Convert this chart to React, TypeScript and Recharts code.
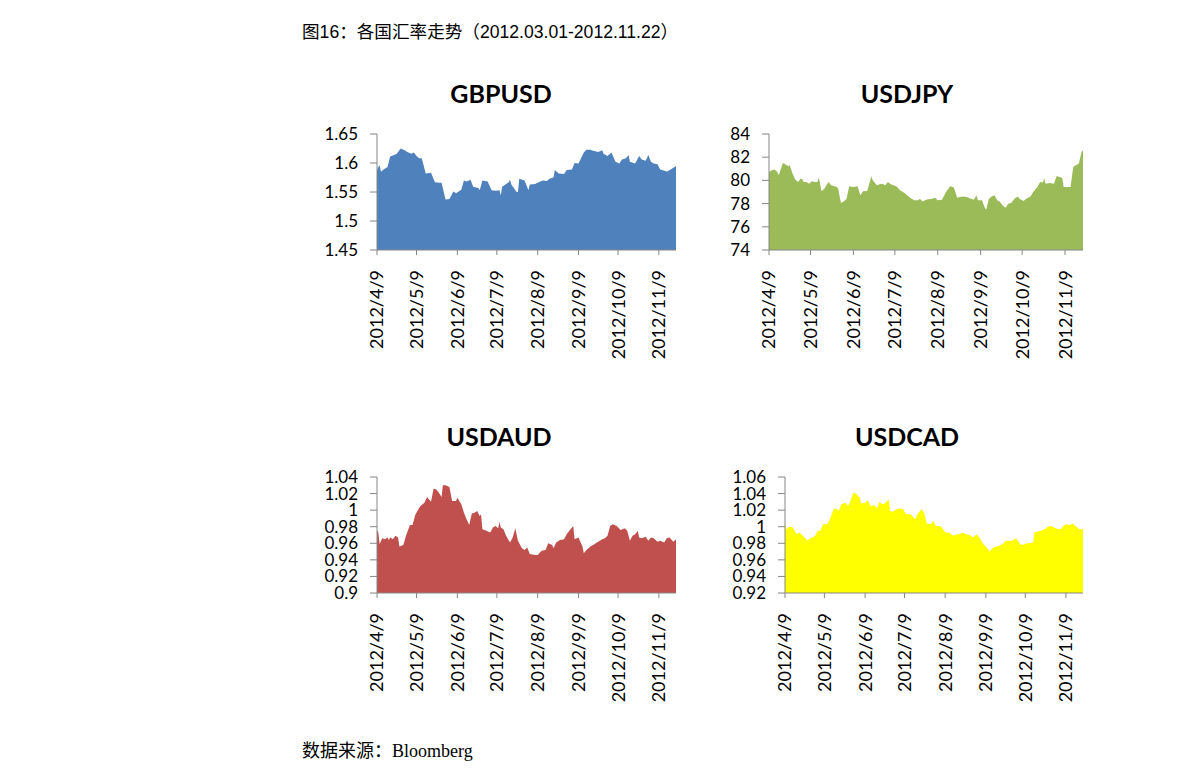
import { AreaChart, Area, XAxis, YAxis } from "recharts";

// day 0 = 2012/4/9, last day 227 = 2012/11/22
const monthTicks = [0, 30, 61, 91, 122, 153, 183, 214];
const monthLabels = ["2012/4/9", "2012/5/9", "2012/6/9", "2012/7/9", "2012/8/9", "2012/9/9", "2012/10/9", "2012/11/9"];

const gbpDays = [0, 1, 2, 3, 5, 8, 10, 13, 15, 18, 21, 23, 26, 28, 30, 32, 34, 37, 41, 44, 47, 49, 52, 55, 58, 60, 64, 66, 68, 71, 73, 77, 78, 80, 84, 87, 90, 93, 94, 95, 100, 101, 102, 106, 107, 108, 112, 115, 116, 120, 124, 126, 129, 131, 134, 135, 138, 142, 144, 148, 150, 153, 157, 159, 162, 164, 168, 171, 172, 175, 178, 181, 184, 186, 189, 191, 192, 196, 199, 201, 204, 206, 208, 210, 213, 215, 219, 220, 223, 227];
const gbpRates = [1.587, 1.593, 1.596, 1.585, 1.589, 1.593, 1.611, 1.614, 1.616, 1.625, 1.622, 1.619, 1.616, 1.618, 1.612, 1.608, 1.608, 1.582, 1.583, 1.567, 1.566, 1.566, 1.537, 1.538, 1.551, 1.548, 1.554, 1.57, 1.568, 1.571, 1.559, 1.557, 1.553, 1.57, 1.568, 1.553, 1.552, 1.553, 1.544, 1.559, 1.567, 1.571, 1.563, 1.55, 1.55, 1.573, 1.57, 1.553, 1.563, 1.564, 1.568, 1.57, 1.569, 1.573, 1.575, 1.588, 1.582, 1.581, 1.588, 1.589, 1.6, 1.599, 1.618, 1.623, 1.623, 1.621, 1.619, 1.622, 1.616, 1.612, 1.618, 1.602, 1.599, 1.606, 1.608, 1.614, 1.602, 1.599, 1.612, 1.606, 1.604, 1.614, 1.602, 1.599, 1.598, 1.589, 1.586, 1.585, 1.589, 1.595];

const jpyDays = [0, 2, 4, 6, 7, 10, 12, 14, 15, 17, 19, 21, 23, 24, 25, 27, 29, 31, 33, 35, 36, 38, 40, 43, 45, 49, 50, 52, 54, 56, 58, 61, 64, 66, 68, 71, 74, 75, 78, 80, 82, 84, 86, 88, 92, 95, 98, 102, 105, 108, 109, 111, 114, 118, 120, 122, 125, 128, 131, 133, 134, 136, 138, 140, 143, 146, 148, 150, 151, 154, 156, 157, 159, 161, 163, 165, 167, 169, 171, 173, 175, 178, 180, 181, 184, 186, 189, 191, 194, 196, 198, 199, 200, 203, 206, 208, 210, 212, 213, 215, 218, 220, 222, 224, 226, 227];
const jpyRates = [80.73, 80.88, 80.94, 80.73, 80.44, 81.51, 81.37, 81.23, 81.31, 80.59, 80.07, 79.87, 80.16, 80.13, 79.87, 79.87, 79.72, 79.92, 79.87, 79.87, 80.24, 79.06, 79.29, 79.87, 79.58, 79.43, 79.29, 78.05, 78.19, 78.39, 79.49, 79.43, 79.49, 78.71, 79.06, 79.09, 80.36, 80.01, 79.58, 79.66, 79.72, 79.58, 79.87, 79.66, 79.49, 79.14, 78.91, 78.51, 78.28, 78.28, 78.42, 78.19, 78.36, 78.42, 78.51, 78.28, 78.34, 79.0, 79.49, 79.43, 79.29, 78.51, 78.57, 78.62, 78.57, 78.42, 78.34, 78.71, 78.28, 78.28, 77.64, 77.47, 78.42, 78.62, 78.71, 78.28, 78.13, 77.84, 77.64, 77.99, 78.05, 78.48, 78.62, 78.42, 78.22, 78.42, 78.62, 79.0, 79.43, 79.87, 79.81, 80.16, 79.72, 79.78, 79.72, 80.39, 80.3, 80.21, 79.43, 79.43, 79.43, 81.17, 81.31, 81.46, 82.47, 82.55];

const audDays = [0, 1, 2, 4, 6, 8, 9, 10, 12, 14, 16, 17, 20, 22, 25, 27, 29, 31, 33, 36, 38, 41, 43, 45, 47, 49, 50, 52, 55, 57, 60, 61, 64, 66, 68, 70, 72, 74, 76, 78, 79, 80, 83, 86, 88, 90, 92, 93, 94, 96, 98, 101, 103, 105, 107, 110, 112, 114, 116, 120, 122, 125, 128, 130, 133, 134, 136, 139, 142, 144, 146, 149, 150, 153, 156, 157, 159, 162, 164, 167, 171, 173, 175, 177, 179, 182, 185, 188, 190, 192, 194, 196, 198, 199, 201, 204, 206, 208, 210, 213, 215, 218, 220, 222, 225, 227];
const audRates = [0.976, 0.973, 0.959, 0.966, 0.965, 0.967, 0.964, 0.967, 0.965, 0.969, 0.967, 0.956, 0.958, 0.969, 0.982, 0.982, 0.994, 1.0, 1.005, 1.009, 1.016, 1.01, 1.026, 1.025, 1.021, 1.016, 1.03, 1.03, 1.028, 1.011, 1.011, 1.015, 1.007, 0.997, 0.989, 0.982, 0.996, 0.997, 0.999, 0.993, 0.995, 0.977, 0.975, 0.973, 0.979, 0.981, 0.978, 0.986, 0.979, 0.977, 0.969, 0.961, 0.967, 0.978, 0.963, 0.954, 0.952, 0.955, 0.947, 0.946, 0.946, 0.951, 0.952, 0.96, 0.958, 0.954, 0.961, 0.964, 0.965, 0.971, 0.975, 0.981, 0.965, 0.967, 0.956, 0.948, 0.952, 0.956, 0.958, 0.961, 0.965, 0.966, 0.969, 0.981, 0.983, 0.981, 0.976, 0.978, 0.975, 0.963, 0.969, 0.971, 0.975, 0.967, 0.966, 0.968, 0.963, 0.967, 0.966, 0.962, 0.963, 0.961, 0.966, 0.967, 0.962, 0.965];

const cadDays = [0, 1, 3, 4, 6, 8, 9, 11, 13, 15, 17, 19, 21, 23, 25, 27, 29, 32, 34, 37, 39, 41, 43, 46, 48, 50, 52, 54, 57, 58, 61, 63, 65, 68, 70, 72, 74, 76, 79, 80, 82, 85, 87, 90, 92, 96, 99, 101, 104, 106, 108, 111, 113, 115, 118, 120, 122, 125, 128, 131, 133, 135, 138, 141, 143, 146, 148, 151, 153, 156, 158, 161, 163, 166, 168, 171, 173, 176, 179, 181, 184, 186, 189, 190, 192, 195, 198, 200, 203, 205, 208, 210, 212, 214, 217, 219, 222, 224, 227];
const cadRates = [1.005, 0.997, 1.0, 1.0, 0.999, 0.993, 0.991, 0.993, 0.99, 0.987, 0.983, 0.986, 0.987, 0.989, 0.995, 0.995, 1.003, 1.003, 1.008, 1.021, 1.022, 1.019, 1.027, 1.029, 1.025, 1.031, 1.041, 1.04, 1.035, 1.028, 1.029, 1.032, 1.025, 1.026, 1.022, 1.03, 1.027, 1.028, 1.033, 1.019, 1.018, 1.021, 1.022, 1.021, 1.015, 1.015, 1.009, 1.015, 1.021, 1.017, 1.004, 1.003, 1.007, 1.001, 1.001, 0.998, 0.993, 0.993, 0.989, 0.991, 0.991, 0.993, 0.991, 0.99, 0.987, 0.991, 0.987, 0.979, 0.976, 0.97, 0.974, 0.976, 0.977, 0.979, 0.983, 0.983, 0.983, 0.986, 0.979, 0.978, 0.98, 0.98, 0.981, 0.993, 0.994, 0.995, 0.997, 1.0, 1.001, 0.999, 0.997, 0.997, 1.001, 1.003, 1.002, 1.004, 1.0, 0.997, 0.997];

const gbpTicks = [1.45, 1.5, 1.55, 1.6, 1.65];
const jpyTicks = [74, 76, 78, 80, 82, 84];
const audTicks = [0.9, 0.92, 0.94, 0.96, 0.98, 1, 1.02, 1.04];
const cadTicks = [0.92, 0.94, 0.96, 0.98, 1, 1.02, 1.04, 1.06];

const GRAY = "#868686";
const FONT = "Lato, 'Noto Sans', sans-serif";
const YW = 60;
const MT = 10;
const MR = 10;
const XH = 110;

const MonthTick = (props: any) => {
  const { x, y, payload } = props;
  const i = monthTicks.indexOf(payload.value);
  return (
    <g transform={`translate(${x},${y})`}>
      <text transform="rotate(-90)" textAnchor="end" dy="0.36em" fontSize={18} fontFamily={FONT} fill="#000">
        {monthLabels[i]}
      </text>
    </g>
  );
};

type PanelProps = {
  name: string;
  color: string;
  days: number[];
  rates: number[];
  ticks: number[];
  left: number;
  top: number;
  width: number;
  height: number;
  titleX: number;
  titleY: number;
};

const Panel = ({ name, color, days, rates, ticks, left, top, width, height, titleX, titleY }: PanelProps) => {
  const data = days.map((d, i) => ({ day: d, rate: rates[i] }));
  return (
    <>
      <div
        style={{
          position: "absolute",
          left: titleX - 100,
          top: titleY - 17,
          width: 200,
          textAlign: "center",
          fontFamily: FONT,
          fontWeight: 700,
          fontSize: 25,
          lineHeight: "32px",
          color: "#000",
        }}
      >
        {name}
      </div>
      <div style={{ position: "absolute", left: left - YW, top: top - MT }}>
        <AreaChart
          width={YW + width + MR}
          height={MT + height + XH}
          data={data}
          margin={{ top: MT, right: MR, left: 0, bottom: 0 }}
        >
          <XAxis
            type="number"
            dataKey="day"
            domain={[0, 227]}
            ticks={monthTicks}
            interval={0}
            height={XH}
            tickSize={5}
            tickMargin={15}
            tick={<MonthTick />}
            axisLine={{ stroke: GRAY }}
            tickLine={{ stroke: GRAY }}
            allowDataOverflow
          />
          <YAxis
            type="number"
            domain={[ticks[0], ticks[ticks.length - 1]]}
            ticks={ticks}
            interval={0}
            width={YW}
            tickSize={7}
            tickMargin={12}
            tick={{ fontSize: 17, fontFamily: FONT, fill: "#000" }}
            axisLine={{ stroke: GRAY }}
            tickLine={{ stroke: GRAY }}
            allowDataOverflow
          />
          <Area
            type="linear"
            dataKey="rate"
            stroke="none"
            fill={color}
            fillOpacity={1}
            dot={false}
            activeDot={false}
            isAnimationActive={false}
          />
        </AreaChart>
      </div>
    </>
  );
};

export default function App() {
  return (
    <div style={{ position: "absolute", left: 0, top: 0, width: 1191, height: 780, background: "#fff" }}>
      <div
        style={{
          position: "absolute",
          left: 302,
          top: 21,
          fontSize: 17.6,
          lineHeight: "22px",
          fontFamily: "'Liberation Sans', 'Noto Sans CJK SC', sans-serif",
          color: "#000",
          whiteSpace: "nowrap",
        }}
      >
        图16：各国汇率走势（2012.03.01-2012.11.22）
      </div>
      <Panel name="GBPUSD" color="#4F81BD" days={gbpDays} rates={gbpRates} ticks={gbpTicks} left={377} top={134} width={299} height={116} titleX={501} titleY={94} />
      <Panel name="USDJPY" color="#9BBB59" days={jpyDays} rates={jpyRates} ticks={jpyTicks} left={769} top={134} width={314} height={116} titleX={907} titleY={94} />
      <Panel name="USDAUD" color="#C0504D" days={audDays} rates={audRates} ticks={audTicks} left={377} top={477} width={299} height={116} titleX={499} titleY={437} />
      <Panel name="USDCAD" color="#FFFF00" days={cadDays} rates={cadRates} ticks={cadTicks} left={785} top={477} width={298} height={116} titleX={907} titleY={437} />
      <div
        style={{
          position: "absolute",
          left: 302,
          top: 738,
          fontSize: 18,
          lineHeight: "22px",
          color: "#000",
          whiteSpace: "nowrap",
        }}
      >
        <span style={{ fontFamily: "'Noto Sans CJK SC', sans-serif" }}>数据来源：</span>
        <span style={{ fontFamily: "'Liberation Serif', serif" }}>Bloomberg</span>
      </div>
    </div>
  );
}
